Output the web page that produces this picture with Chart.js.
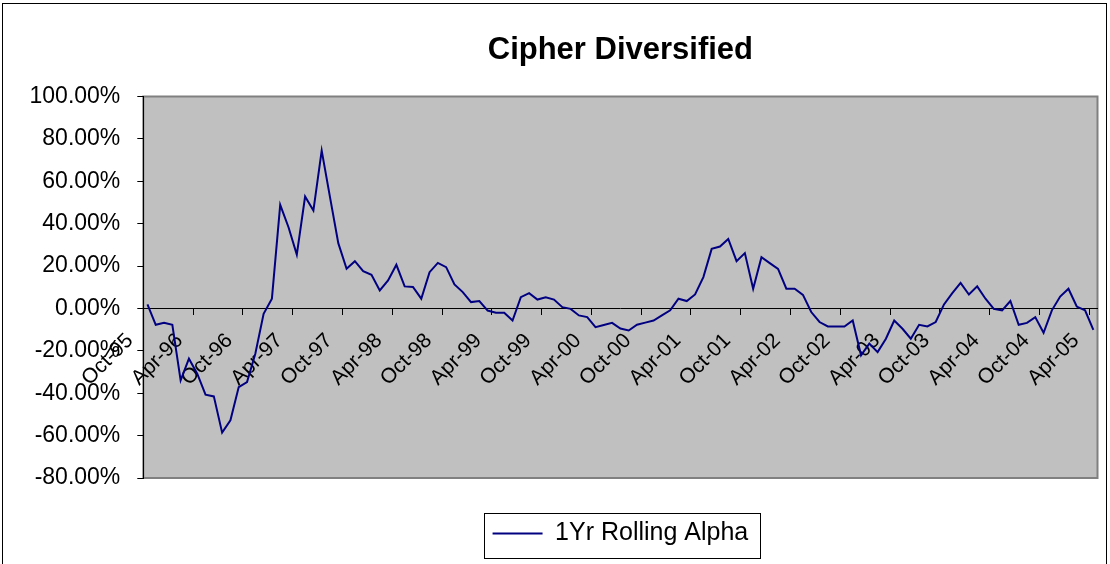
<!DOCTYPE html>
<html lang="en">
<head>
    <meta charset="UTF-8">
    <title>Cipher Diversified</title>
    <script src="https://cdn.jsdelivr.net/npm/chart.js"></script>
    <style>
        body { margin: 0; background: #ffffff; overflow: hidden; }
        .chart-box { position: relative; width: 1110px; height: 564px; }
    </style>
</head>
<body>
    <div class="chart-box"><canvas id="alphaChart"></canvas></div>

    <script>
        // --- Daten ---
        const seriesName = '1Yr Rolling Alpha';
        const monthNames = ['Jan', 'Feb', 'Mar', 'Apr', 'May', 'Jun', 'Jul', 'Aug', 'Sep', 'Oct', 'Nov', 'Dec'];
        const firstYear = 1995;
        const firstMonth = 9; // Oct-95
        const labelEvery = 6;

        // monthly values in percent, Oct-95 .. Apr-05
        const rollingAlpha = [
            1.9, -7.7, -6.8, -7.7, -33.9, -23.7, -30.8, -40.7, -41.5, -58.6,
            -52.8, -37.1, -34.7, -21.4, -2.5, 4.6, 48.9, 38.3, 25.4, 52.8,
            46.2, 74.5, 52.5, 30.8, 18.7, 22.3, 17.6, 15.9, 8.5, 13.2,
            20.6, 10.4, 10.1, 4.6, 17.1, 21.5, 19.5, 11.3, 7.7, 3.0,
            3.5, -1.0, -2.0, -2.0, -5.7, 5.3, 7.2, 4.2, 5.3, 4.2,
            0.6, -0.2, -3.3, -4.1, -8.8, -7.8, -6.8, -9.5, -10.4, -7.7,
            -6.7, -5.7, -3.3, -0.9, 4.6, 3.5, 6.6, 14.8, 28.1, 29.2,
            32.8, 22.3, 26.1, 9.3, 24.2, 21.4, 18.7, 9.3, 9.3, 6.4,
            -1.7, -6.4, -8.5, -8.5, -8.5, -5.7, -22.1, -16.6, -20.6, -14.3,
            -5.7, -9.6, -14.3, -7.7, -8.5, -6.4, 1.9, 7.2, 12.1, 6.6,
            10.4, 4.6, -0.2, -0.9, 3.5, -7.7, -6.8, -4.1, -11.5, -0.9,
            5.6, 9.3, 0.9, -0.9, -10.1
        ];

        const yMin = -80;
        const yMax = 100;
        const yStep = 20;

        // Monatslabels (Oct-95, Nov-95, ...)
        const months = rollingAlpha.map((_, i) => {
            const m = firstMonth + i;
            const yy = (firstYear + Math.floor(m / 12)) % 100;
            return monthNames[m % 12] + '-' + String(yy).padStart(2, '0');
        });

        Chart.defaults.font.family = '"Liberation Sans", Arial, sans-serif';
        Chart.defaults.color = '#000000';

        // Plotfläche grau, Rahmen ums Diagramm, Rahmen um die Legende
        const excelFrame = {
            id: 'excelFrame',
            beforeDraw(chart) {
                const { ctx, chartArea: a } = chart;
                ctx.save();
                ctx.strokeStyle = '#000000';
                ctx.lineWidth = 1;
                ctx.strokeRect(2.5, 3.5, 1104, 620);
                ctx.fillStyle = '#C0C0C0';
                ctx.fillRect(a.left, a.top, a.width, a.height);
                ctx.strokeStyle = '#808080';
                ctx.lineWidth = 2;
                ctx.strokeRect(a.left, a.top, a.width, a.height);
                ctx.restore();
            },
            afterDraw(chart) {
                const box = chart.legend.legendHitBoxes[0];
                if (!box) return;
                const ctx = chart.ctx;
                ctx.save();
                ctx.strokeStyle = '#000000';
                ctx.lineWidth = 1;
                ctx.strokeRect(Math.round(box.left - 9) + 0.5, Math.round(box.top - 8) + 0.5,
                    Math.round(box.width + 20), Math.round(box.height + 20));
                ctx.restore();
            }
        };

        new Chart(document.getElementById('alphaChart'), {
            type: 'line',
            data: {
                labels: months,
                datasets: [{
                    label: seriesName,
                    data: rollingAlpha,
                    borderColor: '#000080',
                    backgroundColor: '#000080',
                    borderWidth: 2,
                    pointRadius: 0,
                    tension: 0,
                    fill: false
                }]
            },
            options: {
                responsive: true,
                maintainAspectRatio: false,
                animation: false,
                layout: { padding: { top: 0, left: 0, right: 12.5, bottom: 8 } },
                scales: {
                    x: {
                        type: 'category',
                        position: { y: 0 },
                        offset: true,
                        afterFit: scale => { scale.paddingLeft = 0; scale.paddingRight = 0; },
                        grid: {
                            offset: true,
                            drawOnChartArea: false,
                            drawTicks: true,
                            tickLength: 6,
                            color: ctx => (ctx.index % labelEvery === 0 ? '#000000' : 'rgba(0,0,0,0)')
                        },
                        border: { display: true, color: '#000000', width: 1 },
                        ticks: {
                            autoSkip: false,
                            minRotation: 45,
                            maxRotation: 45,
                            labelOffset: -17.5,
                            padding: 14,
                            font: { size: 21 },
                            color: '#000000',
                            callback: (value, index) => (index % labelEvery === 0 ? months[index] : '')
                        }
                    },
                    y: {
                        min: yMin,
                        max: yMax,
                        afterFit: scale => { scale.width = 143.3; },
                        grid: {
                            drawOnChartArea: false,
                            drawTicks: true,
                            tickLength: 6,
                            color: '#000000'
                        },
                        border: { display: true, color: '#000000', width: 1 },
                        ticks: {
                            stepSize: yStep,
                            padding: 17,
                            font: { size: 23 },
                            color: '#000000',
                            callback: v => v.toFixed(2) + '%'
                        }
                    }
                },
                plugins: {
                    title: {
                        display: true,
                        fullSize: false,
                        text: 'Cipher Diversified',
                        color: '#000000',
                        font: { size: 31, weight: 'bold' },
                        padding: { top: 31.7, bottom: 27.6 }
                    },
                    legend: {
                        display: true,
                        position: 'bottom',
                        fullSize: false,
                        title: { display: true, text: ' ', font: { size: 10 }, padding: { top: 21, bottom: 0 } },
                        labels: {
                            usePointStyle: true,
                            pointStyle: 'line',
                            pointStyleWidth: 50,
                            padding: 10,
                            color: '#000000',
                            font: { size: 25 }
                        }
                    },
                    tooltip: { enabled: false }
                }
            },
            plugins: [excelFrame]
        });
    </script>
</body>
</html>
